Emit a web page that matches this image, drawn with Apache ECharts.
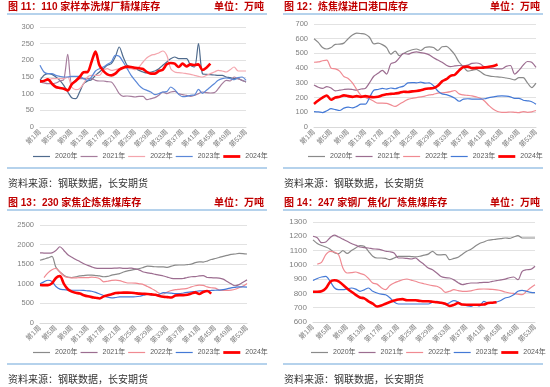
<!DOCTYPE html>
<html><head><meta charset="utf-8">
<script src="https://cdn.jsdelivr.net/npm/echarts@6/dist/echarts.min.js"></script>
<style>
html,body{margin:0;padding:0;background:#fff;width:550px;height:387px;overflow:hidden}
.p{position:absolute}
</style></head><body>
<div id="c1" class="p" style="left:0;top:0;width:275px;height:196px"></div>
<div id="c2" class="p" style="left:275px;top:0;width:275px;height:196px"></div>
<div id="c3" class="p" style="left:0;top:196px;width:275px;height:191px"></div>
<div id="c4" class="p" style="left:275px;top:196px;width:275px;height:191px"></div>
<script>
const weeks = ['第1周','第2周','第3周','第4周','第5周','第6周','第7周','第8周','第9周','第10周',
'第11周','第12周','第13周','第14周','第15周','第16周','第17周','第18周','第19周','第20周',
'第21周','第22周','第23周','第24周','第25周','第26周','第27周','第28周','第29周','第30周',
'第31周','第32周','第33周','第34周','第35周','第36周','第37周','第38周','第39周','第40周',
'第41周','第42周','第43周','第44周','第45周','第46周','第47周','第48周','第49周','第50周',
'第51周','第52周','第53周'];
const yearNames = ['2020年','2021年','2022年','2023年','2024年'];

// 图11 洗煤厂精煤库存
const p1_2020 = [140,155,160,158,150,140,125,105,88,85, 105,130,138,142,155,165,175,185,190,210, 240,210,185,180,175,170,165,162,165,168, 175,185,195,205,210,205,205,205,185,180, 250,160,158,157,156,155,155,150,148,145, 145,140,135];
const p1_2021 = [135,132,130,130,132,138,142,218,130,140, 145,145,145,145,140,138,138,136,135,120, 100,92,93,92,90,92,92,82,85,88, 95,105,100,105,107,100,97,95,92,95, 100,105,103,102,103,115,130,140,138,150, 145,140,135];
const p1_2022 = [135,140,140,145,145,145,145,150,120,112, 115,130,150,155,155,155,170,175,170,172, 175,180,175,175,172,180,195,208,215,218, 222,228,215,175,165,163,162,160,158,155, 152,150,155,160,165,170,168,165,172,180, 168,168,168];
const p1_2023 = [185,165,160,160,155,152,150,150,152,152, 152,145,140,150,168,175,180,188,195,215, 212,195,175,155,140,125,115,110,105,97, 100,105,106,120,112,98,91,92,95,96, 113,101,110,120,130,140,145,147,145,142, 148,150,140];
const p1_2024 = [137,138,143,130,120,117,115,110,128,138, 150,164,165,195,226,185,168,158,155,160, 172,178,181,180,178,176,174,165,160,160, 168,172,188,192,190,180,190,182,188,186, 188,171,178,190];

// 图12 炼焦煤进口港口库存
const p2_2020 = [600,575,540,530,540,562,563,570,600,625, 638,635,630,610,565,570,560,540,495,515, 485,500,515,525,530,520,540,545,540,520, 545,548,525,490,440,410,380,385,392,375, 355,348,343,340,338,333,328,320,335,335, 300,268,298];
const p2_2021 = [285,270,262,275,265,245,250,255,258,255, 250,258,262,300,345,365,385,360,430,440, 470,500,495,505,510,505,500,490,470,455, 440,420,410,415,418,415,420,432,435,428, 405,400,398,395,395,412,418,360,385,420, 445,440,405];
const p2_2022 = [440,442,450,455,400,395,380,343,330,300, 255,215,200,190,175,162,162,160,150,140, 155,172,188,195,200,205,210,218,222,230, 232,235,240,248,225,218,215,212,205,195, 175,145,120,105,100,100,102,100,98,105, 100,103,112];
const p2_2023 = [105,103,98,110,125,118,112,128,135,130, 140,155,155,200,250,255,262,258,265,260, 270,278,300,302,300,305,298,300,280,245, 225,220,210,195,175,190,192,190,190,190, 192,200,205,210,212,210,205,195,195,182, 178,172,155];
const p2_2024 = [157,180,200,214,185,200,205,215,210,205, 210,205,210,205,202,205,215,222,225,228, 232,240,238,242,245,250,258,262,265,280, 310,325,348,355,385,408,410,400,402,403, 405,410,415,425];

// 图13 焦企炼焦煤库存
const p3_2020 = [1600,1630,1660,1700,1420,1300,1220,1170,1160,1180, 1200,1210,1220,1220,1210,1200,1180,1190,1220,1240, 1260,1300,1330,1350,1370,1390,1420,1450,1445,1435, 1433,1430,1420,1450,1475,1480,1480,1490,1500,1540, 1560,1555,1580,1620,1645,1670,1700,1725,1750,1760, 1775,1770,1760];
const p3_2021 = [1790,1785,1780,1790,1850,1945,1850,1740,1680,1620, 1570,1510,1470,1433,1400,1395,1395,1395,1395,1400, 1405,1395,1395,1400,1380,1350,1300,1280,1265,1240, 1220,1200,1170,1140,1130,1130,1135,1160,1180,1185, 1200,1210,1160,1155,1150,1145,1120,1060,1000,950, 980,1040,1100];
const p3_2022 = [null,1160,1280,1360,1390,1300,1200,1160,1150,1150, 1160,1160,1160,1170,1160,1130,1050,1065,1085,1092, 1080,1050,1020,1020,1015,1000,980,930,880,820, 760,740,790,830,850,860,870,885,920,950, 965,960,920,900,890,840,830,830,840,860, 900,940,1010];
const p3_2023 = [1000,1050,1090,1060,930,865,850,840,836,836, 836,830,820,810,780,740,700,660,640,650, 665,665,665,665,670,682,710,734,715,710, 734,776,770,760,750,750,765,780,793,805, 819,819,825,830,836,840,850,870,896,910, 921,921,915];
const p3_2024 = [970,965,965,1010,1150,1195,1000,860,800,770, 750,710,680,660,645,625,680,710,735,765, 770,775,775,770,760,750,745,740,730,720, 690,670,660,650,700,710,710,720,750,780, 740,790,815,750];

// 图14 钢厂焦化厂炼焦煤库存
const p4_2020 = [1175,1150,1135,1125,1110,1085,1078,1099,1080,1100, 1118,1135,1130,1095,1060,1048,1048,1045,1036,1048, 1060,1060,1060,1058,1056,1060,1068,1075,1095,1072, 1070,1072,1036,1045,1053,1075,1095,1110,1130,1150, 1160,1172,1176,1180,1183,1188,1185,1195,1205,1188, 1188,1188,1188];
const p4_2021 = [1200,1190,1155,1160,1190,1208,1195,1180,1165,1150, 1138,1125,1120,1118,1112,1110,1105,1095,1092,1083, 1048,1048,1045,1041,1048,1025,1003,978,966,943, 918,910,908,895,875,862,868,873,873,875, 878,878,885,889,895,900,910,915,896,955, 966,968,990];
const p4_2022 = [null,1005,1018,1071,1095,1090,1071,978,943,945, 950,940,931,905,873,865,840,826,855,873, 885,896,901,893,885,875,868,861,855,850, 835,808,815,826,820,815,815,818,826,830, 831,830,828,825,820,810,803,800,795,791, 815,840,861];
const p4_2023 = [890,905,915,920,885,840,826,826,832,838, 830,815,825,838,815,803,795,791,770,740, 726,726,726,726,726,726,726,726,738,745, 735,722,735,750,740,721,715,710,721,712, 745,733,735,740,750,768,775,791,815,822, 815,808,805];
const p4_2024 = [812,812,815,835,880,892,885,860,835,812, 790,772,765,745,728,708,715,728,740,750, 758,760,752,752,752,748,745,745,742,738, 735,728,712,720,733,722,721,721,721,721, 722,733,735,738];

const FONT = "'Liberation Sans','Noto Sans CJK SC',sans-serif";
const colorsA = ['#4f6b8d','#a67d9d','#f4a5ad','#5b88d8','#ff0000'];
const colorsB = ['#8a8a8a','#9c6d90','#f08a92','#4479d6','#ff0000'];
const ICON_THIN = 'path://M0,0H170V12H0Z';
const ICON_THICK = 'path://M0,0H170V28H0Z';

function build(id, o) {
  const chart = echarts.init(document.getElementById(id), null, {renderer:'canvas'});
  const series = o.data.map((d, i) => ({
    type:'line', name: yearNames[i], data: d, symbol:'none', showSymbol:false, smooth:0.3,
    connectNulls:false,
    legendIcon: i===4 ? ICON_THICK : ICON_THIN,
    lineStyle:{width: i===4 ? 2.6 : 1.2, color:o.colors[i]},
    itemStyle:{color:o.colors[i]},
    z: 2 + i
  }));
  const legendData = yearNames.map((n, i) => ({name:n, icon: i===4 ? ICON_THICK : ICON_THIN}));
  chart.setOption({
    animation:false,
    textStyle:{fontFamily:FONT},
    graphic:[
      {type:'text', x:o.lx+1, y:o.ty, style:{text:o.title, fontSize:10, fontWeight:'bold', fontFamily:FONT, fill:'#c00000', align:'left', verticalAlign:'middle'}},
      {type:'text', x:o.rx-3, y:o.ty, style:{text:'单位：万吨', fontSize:10, fontWeight:'bold', fontFamily:FONT, fill:'#c00000', align:'right', verticalAlign:'middle'}},
      {type:'line', shape:{x1:o.lx, y1:o.ty+7, x2:o.rx, y2:o.ty+7}, style:{stroke:'#9dc3e6', lineWidth:1.5}},
      {type:'line', shape:{x1:o.lx, y1:o.by, x2:o.rx, y2:o.by}, style:{stroke:'#9dc3e6', lineWidth:1.5}},
      {type:'text', x:o.lx+1, y:o.by+15, style:{text:'资料来源：钢联数据，长安期货', fontSize:10, fontFamily:"'Noto Sans CJK SC'", fill:'#333333', align:'left', verticalAlign:'middle'}}
    ],
    grid:{left:o.grid[0], top:o.grid[1], width:o.grid[2], height:o.grid[3]},
    legend:{
      data:legendData, top:o.legTop, left:o.legLeft, itemWidth:17, itemHeight:6, itemGap:3,
      symbolKeepAspect:true,
      padding:0, textStyle:{fontSize:7, color:'#595959', fontFamily:FONT}
    },
    xAxis:{type:'category', data:weeks, boundaryGap:false,
      axisLine:{lineStyle:{color:'#d9d9d9'}}, axisTick:{show:false},
      axisLabel:{interval:3, rotate:45, fontSize:7, color:'#7f7f7f', margin:4}},
    yAxis:{type:'value', min:o.y[0], max:o.y[1], interval:o.y[2],
      axisLine:{show:false}, axisTick:{show:false},
      axisLabel:{fontSize:o.yfs, color:'#7f7f7f', margin:6, formatter:(v)=>String(v)},
      splitLine:{lineStyle:{color:'#e2e2e2', width:1}}},
    series
  });
}

build('c1', {title:'图 11：110 家样本洗煤厂精煤库存', lx:7, rx:267, ty:7, by:168,
  grid:[40,27,206,100], legTop:153, legLeft:33, y:[0,300,50], yfs:7.5, colors:colorsA,
  data:[p1_2020,p1_2021,p1_2022,p1_2023,p1_2024]});
build('c2', {title:'图 12：炼焦煤进口港口库存', lx:8, rx:268, ty:7, by:168,
  grid:[39,24,222,103], legTop:153, legLeft:33, y:[0,700,100], yfs:7.5, colors:colorsB,
  data:[p2_2020,p2_2021,p2_2022,p2_2023,p2_2024]});
build('c3', {title:'图 13：230 家焦企炼焦煤库存', lx:7, rx:267, ty:7, by:168,
  grid:[40,29,207,98], legTop:153, legLeft:33, y:[0,2500,500], yfs:7.5, colors:colorsB,
  data:[p3_2020,p3_2021,p3_2022,p3_2023,p3_2024]});
build('c4', {title:'图 14：247 家钢厂焦化厂炼焦煤库存', lx:8, rx:268, ty:7, by:168,
  grid:[38,26,222,100], legTop:153, legLeft:36, y:[600,1300,100], yfs:8, colors:colorsB,
  data:[p4_2020,p4_2021,p4_2022,p4_2023,p4_2024]});
</script>
</body></html>
